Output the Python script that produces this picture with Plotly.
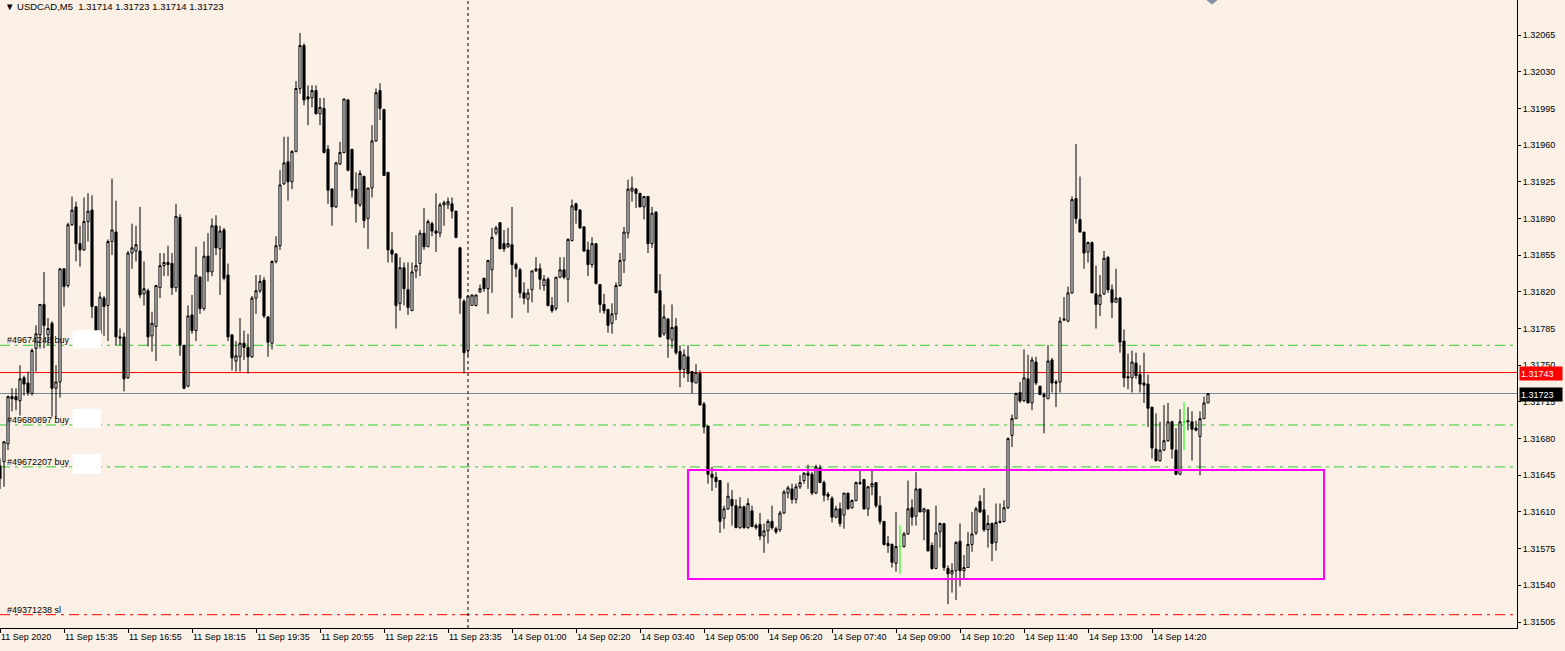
import plotly.graph_objects as go

# ---- OHLC data (USDCAD M5), one value per bar ----
opens = [
1.31654,1.31658,1.31675,1.31720,1.31720,1.31716,1.31738,1.31733,1.31723,1.31766,
1.31779,1.31808,1.31779,1.31790,1.31728,1.31734,1.31842,1.31826,1.31884,1.31901,
1.31866,1.31860,1.31887,1.31898,1.31806,1.31780,1.31814,1.31807,1.31868,1.31877,
1.31777,1.31777,1.31738,1.31857,1.31859,1.31859,1.31818,1.31821,1.31778,1.31787,
1.31824,1.31845,1.31848,1.31847,1.31824,1.31891,1.31769,1.31730,1.31798,1.31783,
1.31834,1.31804,1.31854,1.31839,1.31883,1.31861,1.31879,1.31836,1.31779,1.31754,
1.31758,1.31771,1.31767,1.31758,1.31814,1.31821,1.31831,1.31796,1.31771,1.31849,
1.31864,1.31923,1.31944,1.31925,1.31954,1.32014,1.32055,1.32006,1.32005,1.32012,
1.31990,1.31995,1.31956,1.31918,1.31901,1.31942,1.31953,1.32003,1.31956,1.31918,
1.31903,1.31930,1.31890,1.31919,1.31964,1.32012,1.31994,1.31934,1.31860,1.31856,
1.31809,1.31843,1.31822,1.31802,1.31840,1.31847,1.31876,1.31863,1.31885,1.31878,
1.31876,1.31903,1.31903,1.31904,1.31897,1.31862,1.31811,1.31764,1.31807,1.31807,
1.31820,1.31833,1.31823,1.31841,1.31876,1.31886,1.31866,1.31863,1.31865,1.31846,
1.31841,1.31819,1.31813,1.31822,1.31840,1.31842,1.31826,1.31832,1.31807,1.31804,
1.31834,1.31841,1.31832,1.31869,1.31904,1.31898,1.31882,1.31860,1.31846,1.31866,
1.31827,1.31808,1.31803,1.31790,1.31799,1.31826,1.31850,1.31876,1.31916,1.31918,
1.31914,1.31901,1.31911,1.31866,1.31896,1.31821,1.31780,1.31794,1.31774,1.31787,
1.31763,1.31746,1.31758,1.31744,1.31733,1.31742,1.31713,1.31692,1.31646,1.31643,
1.31640,1.31604,1.31613,1.31622,1.31616,1.31595,1.31615,1.31595,1.31611,1.31595,
1.31598,1.31587,1.31592,1.31601,1.31594,1.31593,1.31609,1.31628,1.31632,1.31622,
1.31634,1.31640,1.31647,1.31646,1.31628,1.31652,1.31638,1.31627,1.31623,1.31605,
1.31613,1.31607,1.31628,1.31614,1.31621,1.31637,1.31641,1.31613,1.31634,1.31638,
1.31616,1.31601,1.31580,1.31579,1.31561,1.31577,1.31577,1.31589,1.31614,1.31606,
1.31632,1.31610,1.31612,1.31578,1.31556,1.31591,1.31599,1.31556,1.31551,1.31554,
1.31582,1.31554,1.31557,1.31579,1.31590,1.31620,1.31612,1.31593,1.31599,1.31581,
1.31600,1.31601,1.31614,1.31683,1.31699,1.31724,1.31716,1.31737,1.31714,1.31753,
1.31730,1.31722,1.31718,1.31755,1.31734,1.31734,1.31793,1.31792,1.31819,1.31909,
1.31889,1.31877,1.31858,1.31867,1.31818,1.31808,1.31818,1.31853,1.31822,1.31810,
1.31814,1.31773,1.31739,1.31738,1.31752,1.31741,1.31733,1.31732,1.31710,1.31670,
1.31659,1.31669,1.31678,1.31696,1.31669,1.31646,1.31696,1.31696,1.31696,1.31690,
1.31682,1.31699,1.31714]
highs = [
1.31661,1.31677,1.31721,1.31728,1.31728,1.31750,1.31740,1.31744,1.31766,1.31788,
1.31808,1.31839,1.31795,1.31792,1.31750,1.31842,1.31842,1.31886,1.31911,1.31906,
1.31883,1.31910,1.31914,1.31912,1.31806,1.31820,1.31816,1.31870,1.31928,1.31907,
1.31785,1.31781,1.31859,1.31885,1.31883,1.31901,1.31849,1.31823,1.31801,1.31826,
1.31857,1.31857,1.31864,1.31857,1.31904,1.31894,1.31769,1.31807,1.31817,1.31863,
1.31835,1.31868,1.31876,1.31890,1.31893,1.31883,1.31881,1.31847,1.31779,1.31773,
1.31795,1.31783,1.31780,1.31816,1.31836,1.31836,1.31834,1.31797,1.31850,1.31873,
1.31936,1.31968,1.31968,1.31955,1.32021,1.32067,1.32057,1.32017,1.32017,1.32017,
1.32005,1.32005,1.31960,1.31919,1.31944,1.31963,1.32004,1.32004,1.31956,1.31934,
1.31936,1.31931,1.31919,1.31979,1.32014,1.32019,1.31994,1.31934,1.31877,1.31857,
1.31853,1.31848,1.31848,1.31848,1.31874,1.31879,1.31900,1.31889,1.31887,1.31914,
1.31905,1.31907,1.31910,1.31910,1.31897,1.31863,1.31813,1.31817,1.31817,1.31817,
1.31827,1.31833,1.31850,1.31881,1.31883,1.31886,1.31879,1.31881,1.31901,1.31848,
1.31843,1.31829,1.31823,1.31840,1.31853,1.31847,1.31836,1.31834,1.31815,1.31834,
1.31853,1.31853,1.31871,1.31908,1.31905,1.31899,1.31882,1.31868,1.31872,1.31866,
1.31827,1.31818,1.31804,1.31809,1.31829,1.31857,1.31882,1.31927,1.31930,1.31919,
1.31914,1.31911,1.31911,1.31901,1.31897,1.31837,1.31808,1.31795,1.31808,1.31795,
1.31769,1.31765,1.31769,1.31744,1.31751,1.31745,1.31715,1.31692,1.31653,1.31648,
1.31640,1.31616,1.31638,1.31631,1.31622,1.31624,1.31616,1.31623,1.31616,1.31599,
1.31609,1.31599,1.31603,1.31616,1.31596,1.31611,1.31631,1.31635,1.31637,1.31637,
1.31645,1.31648,1.31655,1.31648,1.31655,1.31655,1.31640,1.31629,1.31625,1.31616,
1.31619,1.31628,1.31628,1.31622,1.31639,1.31651,1.31641,1.31635,1.31651,1.31638,
1.31625,1.31601,1.31587,1.31580,1.31610,1.31597,1.31591,1.31640,1.31622,1.31648,
1.31632,1.31614,1.31612,1.31581,1.31616,1.31600,1.31599,1.31559,1.31561,1.31582,
1.31599,1.31569,1.31591,1.31610,1.31615,1.31626,1.31633,1.31607,1.31600,1.31618,
1.31618,1.31621,1.31681,1.31703,1.31724,1.31734,1.31765,1.31760,1.31758,1.31758,
1.31730,1.31724,1.31769,1.31757,1.31736,1.31796,1.31815,1.31825,1.31911,1.31961,
1.31930,1.31877,1.31868,1.31868,1.31845,1.31836,1.31859,1.31854,1.31827,1.31842,
1.31815,1.31784,1.31761,1.31764,1.31762,1.31750,1.31762,1.31741,1.31710,1.31704,
1.31696,1.31712,1.31714,1.31697,1.31690,1.31708,1.31715,1.31710,1.31706,1.31697,
1.31706,1.31720,1.31723]
lows = [
1.31632,1.31634,1.31669,1.31706,1.31707,1.31702,1.31721,1.31721,1.31721,1.31744,
1.31766,1.31766,1.31769,1.31701,1.31699,1.31719,1.31806,1.31824,1.31883,1.31849,
1.31844,1.31859,1.31868,1.31795,1.31780,1.31779,1.31778,1.31773,1.31855,1.31769,
1.31769,1.31725,1.31737,1.31842,1.31849,1.31814,1.31807,1.31768,1.31763,1.31754,
1.31814,1.31835,1.31835,1.31817,1.31820,1.31759,1.31727,1.31729,1.31780,1.31773,
1.31799,1.31802,1.31830,1.31835,1.31855,1.31817,1.31831,1.31773,1.31745,1.31744,
1.31744,1.31755,1.31742,1.31757,1.31799,1.31819,1.31795,1.31758,1.31765,1.31847,
1.31860,1.31922,1.31907,1.31918,1.31953,1.32009,1.31998,1.31979,1.31996,1.31989,
1.31979,1.31952,1.31904,1.31883,1.31900,1.31941,1.31952,1.31935,1.31910,1.31886,
1.31901,1.31881,1.31861,1.31910,1.31963,1.31984,1.31931,1.31848,1.31848,1.31785,
1.31802,1.31807,1.31798,1.31802,1.31833,1.31835,1.31860,1.31863,1.31873,1.31858,
1.31872,1.31883,1.31899,1.31890,1.31871,1.31799,1.31742,1.31759,1.31807,1.31806,
1.31819,1.31820,1.31799,1.31819,1.31874,1.31861,1.31858,1.31862,1.31795,1.31834,
1.31814,1.31808,1.31800,1.31810,1.31839,1.31822,1.31821,1.31806,1.31800,1.31802,
1.31833,1.31832,1.31810,1.31868,1.31885,1.31880,1.31858,1.31835,1.31843,1.31827,
1.31800,1.31799,1.31781,1.31780,1.31793,1.31825,1.31838,1.31871,1.31906,1.31900,
1.31901,1.31889,1.31857,1.31862,1.31819,1.31777,1.31778,1.31757,1.31766,1.31760,
1.31729,1.31738,1.31734,1.31723,1.31733,1.31712,1.31685,1.31637,1.31630,1.31633,
1.31590,1.31594,1.31612,1.31597,1.31595,1.31594,1.31594,1.31594,1.31596,1.31593,
1.31583,1.31571,1.31580,1.31593,1.31589,1.31591,1.31608,1.31623,1.31618,1.31618,
1.31632,1.31637,1.31632,1.31626,1.31627,1.31638,1.31620,1.31621,1.31600,1.31604,
1.31596,1.31594,1.31612,1.31613,1.31620,1.31636,1.31612,1.31606,1.31626,1.31614,
1.31598,1.31578,1.31571,1.31557,1.31553,1.31551,1.31576,1.31588,1.31597,1.31597,
1.31610,1.31583,1.31572,1.31555,1.31556,1.31576,1.31554,1.31522,1.31533,1.31526,
1.31539,1.31547,1.31557,1.31572,1.31588,1.31609,1.31591,1.31576,1.31563,1.31573,
1.31599,1.31600,1.31613,1.31672,1.31699,1.31714,1.31715,1.31714,1.31707,1.31731,
1.31722,1.31685,1.31718,1.31724,1.31710,1.31724,1.31792,1.31791,1.31818,1.31885,
1.31877,1.31842,1.31848,1.31819,1.31785,1.31797,1.31817,1.31819,1.31795,1.31810,
1.31762,1.31729,1.31727,1.31724,1.31737,1.31724,1.31714,1.31691,1.31661,1.31658,
1.31658,1.31668,1.31677,1.31661,1.31645,1.31645,1.31669,1.31688,1.31659,1.31687,
1.31645,1.31699,1.31714]
closes = [
1.31642,1.31677,1.31720,1.31718,1.31717,1.31737,1.31732,1.31724,1.31764,1.31780,
1.31808,1.31788,1.31785,1.31728,1.31734,1.31842,1.31825,1.31884,1.31898,1.31866,
1.31860,1.31887,1.31897,1.31806,1.31783,1.31815,1.31806,1.31868,1.31879,1.31777,
1.31776,1.31737,1.31857,1.31862,1.31865,1.31817,1.31823,1.31777,1.31790,1.31826,
1.31845,1.31848,1.31846,1.31824,1.31892,1.31769,1.31728,1.31797,1.31783,1.31836,
1.31804,1.31854,1.31839,1.31883,1.31862,1.31878,1.31833,1.31777,1.31757,1.31759,
1.31771,1.31767,1.31758,1.31814,1.31821,1.31830,1.31797,1.31772,1.31849,1.31864,
1.31922,1.31943,1.31925,1.31954,1.32014,1.32055,1.32003,1.32004,1.32012,1.31990,
1.31996,1.31953,1.31917,1.31901,1.31943,1.31953,1.32004,1.31936,1.31917,1.31904,
1.31933,1.31888,1.31919,1.31964,1.32010,1.31995,1.31931,1.31860,1.31856,1.31807,
1.31843,1.31823,1.31805,1.31839,1.31845,1.31876,1.31863,1.31887,1.31878,1.31876,
1.31903,1.31905,1.31906,1.31897,1.31872,1.31814,1.31762,1.31816,1.31817,1.31817,
1.31823,1.31823,1.31850,1.31872,1.31881,1.31861,1.31861,1.31866,1.31846,1.31842,
1.31819,1.31814,1.31819,1.31840,1.31842,1.31832,1.31832,1.31807,1.31802,1.31834,
1.31841,1.31834,1.31870,1.31902,1.31898,1.31881,1.31859,1.31846,1.31866,1.31828,
1.31808,1.31802,1.31788,1.31799,1.31826,1.31850,1.31877,1.31918,1.31919,1.31914,
1.31901,1.31911,1.31866,1.31895,1.31819,1.31777,1.31796,1.31775,1.31786,1.31762,
1.31746,1.31760,1.31742,1.31734,1.31743,1.31712,1.31691,1.31646,1.31643,1.31639,
1.31601,1.31613,1.31625,1.31616,1.31595,1.31615,1.31595,1.31618,1.31596,1.31597,
1.31587,1.31592,1.31601,1.31595,1.31591,1.31609,1.31629,1.31633,1.31622,1.31634,
1.31638,1.31647,1.31645,1.31628,1.31653,1.31638,1.31626,1.31625,1.31605,1.31613,
1.31599,1.31628,1.31613,1.31621,1.31638,1.31638,1.31613,1.31634,1.31637,1.31616,
1.31601,1.31579,1.31578,1.31562,1.31577,1.31577,1.31589,1.31613,1.31605,1.31632,
1.31610,1.31613,1.31573,1.31556,1.31590,1.31599,1.31557,1.31551,1.31554,1.31581,
1.31554,1.31557,1.31579,1.31589,1.31613,1.31610,1.31593,1.31599,1.31580,1.31600,
1.31601,1.31614,1.31680,1.31699,1.31723,1.31716,1.31738,1.31714,1.31755,1.31733,
1.31722,1.31720,1.31754,1.31733,1.31733,1.31792,1.31794,1.31819,1.31908,1.31890,
1.31877,1.31857,1.31867,1.31819,1.31808,1.31817,1.31852,1.31822,1.31810,1.31814,
1.31772,1.31738,1.31738,1.31753,1.31740,1.31732,1.31731,1.31709,1.31671,1.31659,
1.31669,1.31678,1.31696,1.31670,1.31646,1.31696,1.31696,1.31697,1.31689,1.31688,
1.31699,1.31714,1.31723]

time_ticks = [0, 16, 32, 48, 64, 80, 96, 112, 128, 144, 160, 176, 192, 208, 224, 240, 256, 272, 288]
time_labels = ["11 Sep 2020", "11 Sep 15:35", "11 Sep 16:55", "11 Sep 18:15", "11 Sep 19:35",
               "11 Sep 20:55", "11 Sep 22:15", "11 Sep 23:35", "14 Sep 01:00", "14 Sep 02:20",
               "14 Sep 03:40", "14 Sep 05:00", "14 Sep 06:20", "14 Sep 07:40", "14 Sep 09:00",
               "14 Sep 10:20", "14 Sep 11:40", "14 Sep 13:00", "14 Sep 14:20"]
price_ticks = [1.31505, 1.31540, 1.31575, 1.31610, 1.31645, 1.31680, 1.31715, 1.31750, 1.31785,
               1.31820, 1.31855, 1.31890, 1.31925, 1.31960, 1.31995, 1.32030, 1.32065]

buy_levels = [1.31769, 1.31693, 1.31653]
buy_labels = ["#49674248 buy", "#49680897 buy", "#49672207 buy"]
sl_level = 1.31512
sl_label = "#49371238 sl"
red_level = 1.31743
bid_level = 1.31723
zone_bars = [172, 331]
zone_prices = [1.31546, 1.31650]
day_break_bar = 117

BG = "#FAF0E6"
FONT = "Liberation Sans"
GREEN = "#32CD32"

n = len(opens)
bars = list(range(n))
normal = [i for i in bars if opens[i] != closes[i]]
doji = [i for i in bars if opens[i] == closes[i]]

fig = go.Figure()
fig.add_trace(go.Candlestick(
    x=[bars[i] for i in normal],
    open=[opens[i] for i in normal], high=[highs[i] for i in normal],
    low=[lows[i] for i in normal], close=[closes[i] for i in normal],
    increasing=dict(line=dict(color="black", width=1), fillcolor="white"),
    decreasing=dict(line=dict(color="black", width=1), fillcolor="black"),
    whiskerwidth=0, hoverinfo="skip", showlegend=False))
fig.add_trace(go.Candlestick(
    x=[bars[i] for i in doji],
    open=[opens[i] for i in doji], high=[highs[i] for i in doji],
    low=[lows[i] for i in doji], close=[closes[i] for i in doji],
    increasing=dict(line=dict(color="#00FF00", width=1), fillcolor="#00FF00"),
    decreasing=dict(line=dict(color="#00FF00", width=1), fillcolor="#00FF00"),
    whiskerwidth=0, hoverinfo="skip", showlegend=False))

shapes = []
dash = "10px,5px,3px,5px"
for lv in buy_levels:
    shapes.append(dict(type="line", xref="paper", x0=0, x1=1, yref="y", y0=lv, y1=lv,
                       line=dict(color=GREEN, width=1, dash=dash), layer="below"))
shapes.append(dict(type="line", xref="paper", x0=0, x1=1, yref="y", y0=sl_level, y1=sl_level,
                   line=dict(color="#FF0000", width=1, dash=dash), layer="below"))
shapes.append(dict(type="line", xref="paper", x0=0, x1=1, yref="y", y0=red_level, y1=red_level,
                   line=dict(color="#FF0000", width=1), layer="below"))
shapes.append(dict(type="line", xref="paper", x0=0, x1=1, yref="y", y0=bid_level, y1=bid_level,
                   line=dict(color="#778899", width=1), layer="below"))
shapes.append(dict(type="line", xref="x", x0=day_break_bar, x1=day_break_bar, yref="paper", y0=0, y1=1,
                   line=dict(color="black", width=1, dash="3px,3px"), layer="below"))
shapes.append(dict(type="rect", xref="x", x0=zone_bars[0], x1=zone_bars[1], yref="y",
                   y0=zone_prices[0], y1=zone_prices[1],
                   line=dict(color="#FF00FF", width=2), fillcolor="rgba(0,0,0,0)"))
# white boxes next to the order labels
for lv, (up, dn) in zip(buy_levels, [(0.000143, 0.000029), (0.000153, 0.000029), (0.000124, 0.000067)]):
    shapes.append(dict(type="rect", xref="paper", x0=0.0478, x1=0.0666, yref="y",
                       y0=lv - dn, y1=lv + up, line=dict(width=0), fillcolor="white", layer="above"))
# chart-shift marker at top
shapes.append(dict(type="path", xref="x", yref="paper",
                   path="M 301.6 1 L 304.4 1 L 303 0.993 Z",
                   fillcolor="#8090A8", line=dict(width=0)))

annotations = []
header = "\u25BC USDCAD,M5  %.5f %.5f %.5f %.5f" % (opens[-1], highs[-1], lows[-1], closes[-1])
annotations.append(dict(text=header, xref="paper", yref="paper", x=0, y=1, xanchor="left", yanchor="top",
                        xshift=3, yshift=1, showarrow=False, font=dict(family=FONT, size=9.5, color="black")))
for lv, lb in zip(buy_levels, buy_labels):
    annotations.append(dict(text=lb, xref="paper", yref="y", x=0, y=lv, xanchor="left", yanchor="bottom",
                            xshift=5, yshift=-2, showarrow=False, font=dict(family=FONT, size=9, color="black")))
annotations.append(dict(text=sl_label, xref="paper", yref="y", x=0, y=sl_level, xanchor="left", yanchor="bottom",
                        xshift=5, yshift=-2, showarrow=False, font=dict(family=FONT, size=9, color="black")))
for lv, bg in [(red_level, "#FF0000"), (bid_level, "#000000")]:
    annotations.append(dict(text="%.5f" % lv, xref="paper", yref="y", x=1, y=lv, xanchor="left", yanchor="middle",
                            xshift=2, yshift=-1, showarrow=False, bgcolor=bg, width=40, height=11, align="left",
                            borderpad=1, font=dict(family=FONT, size=9, color="white")))

fig.update_layout(
    width=1565, height=651,
    margin=dict(l=0, r=48, t=0, b=23),
    paper_bgcolor=BG, plot_bgcolor=BG,
    showlegend=False, hovermode=False,
    boxgap=0.25,
    shapes=shapes, annotations=annotations,
    font=dict(family=FONT, size=9, color="black"),
    xaxis=dict(range=[0, 379.25], rangeslider=dict(visible=False), showgrid=False, zeroline=False,
               tickmode="array", tickvals=time_ticks, ticktext=time_labels,
               ticks="outside", ticklen=4, tickcolor="black", tickwidth=1,
               showline=True, linecolor="black", linewidth=1,
               ticklabelposition="outside right",
               tickfont=dict(family=FONT, size=9, color="black"), fixedrange=True),
    yaxis=dict(range=[1.314993, 1.320984], side="right", showgrid=False, zeroline=False,
               tickmode="array", tickvals=price_ticks, ticktext=["%.5f" % p for p in price_ticks],
               ticks="outside", ticklen=3, tickcolor="black", tickwidth=1,
               showline=True, linecolor="black", linewidth=1,
               tickfont=dict(family=FONT, size=9, color="black"), fixedrange=True),
)

fig.write_html("out.html", config={"displayModeBar": False, "staticPlot": True},
               post_script="document.body.style.margin='0';document.body.style.overflow='hidden';")
